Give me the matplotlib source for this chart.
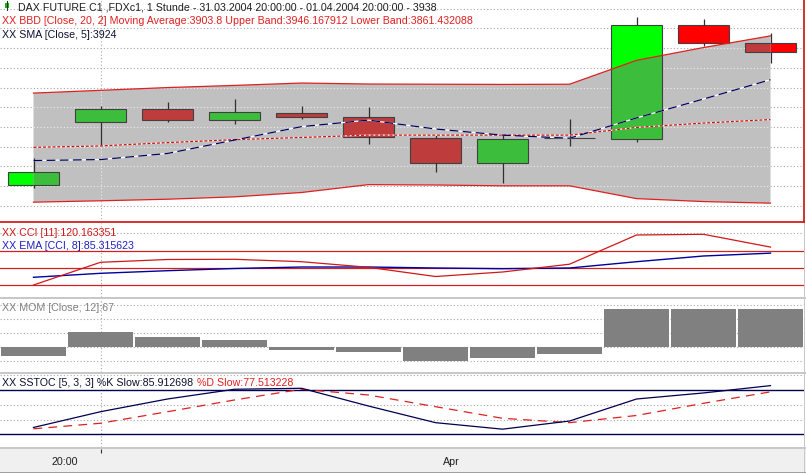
import matplotlib
matplotlib.use('Agg')
import matplotlib.pyplot as plt
from matplotlib.patches import Polygon, Rectangle
from matplotlib.lines import Line2D
import numpy as np

# DAX Future, 1 Stunde - Kerzen
opens = [3870.4, 3902.4, 3909.0, 3903.7, 3907.1, 3905.1, 3894.3, 3881.9, 3894.3, 3893.8, 3951.7, 3942.6]
highs = [3884.3, 3910.7, 3912.8, 3914.2, 3910.8, 3910.1, 3895.9, 3896.4, 3904.0, 3956.0, 3954.8, 3947.7]
lows = [3869.0, 3890.4, 3902.7, 3901.7, 3904.2, 3891.2, 3877.2, 3871.7, 3890.5, 3892.5, 3941.2, 3932.5]
closes = [3877.0, 3909.0, 3903.7, 3907.6, 3904.9, 3894.8, 3881.9, 3893.8, 3894.5, 3951.7, 3942.5, 3938.0]

# Bollinger (BBD) und SMA
bb_upper = [3917.2, 3918.6, 3920.0, 3921.1, 3922.3, 3921.8, 3921.7, 3921.6, 3921.7, 3933.8, 3940.3, 3946.2]
bb_lower = [3861.9, 3862.6, 3863.4, 3864.6, 3866.8, 3870.8, 3870.6, 3870.2, 3870.2, 3863.7, 3862.2, 3861.4]
bb_ma = [3889.7, 3890.4, 3892.1, 3893.6, 3894.7, 3895.9, 3895.9, 3895.9, 3895.9, 3899.8, 3902.0, 3903.8]
sma5 = [3883.0, 3883.5, 3886.6, 3893.4, 3900.2, 3903.5, 3899.0, 3895.9, 3894.3, 3904.6, 3914.2, 3924.0]

# Indikatoren
cci = [-97.7, 32.8, 48.9, 50.0, 36.2, 4.0, -48.9, -23.0, 21.8, 189.7, 193.7, 120.2]
cci_ema = [-53.4, -30.5, -15.5, -2.9, 5.7, 5.7, 0.0, -4.0, 0.0, 36.2, 69.0, 85.3]
mom = [-16.3, 25.7, 16.7, 11.8, -6.1, -9.2, -25.3, -19.9, -13.3, 67, 67, 67]
k_slow = [29.3, 50.6, 67.8, 81.0, 82.3, 58.3, 35.8, 27.0, 38.0, 67.8, 76.0, 85.9]
d_slow = [27.5, 35.0, 50.6, 66.5, 81.0, 73.2, 57.4, 41.7, 35.8, 45.5, 62.0, 77.5]

# Beschriftungen
title_text = "DAX FUTURE C1 ,FDXc1, 1 Stunde - 31.03.2004 20:00:00 - 01.04.2004 20:00:00 - 3938"
bbd_text = "XX BBD [Close, 20, 2] Moving Average:3903.8 Upper Band:3946.167912 Lower Band:3861.432088"
sma_text = "XX SMA [Close, 5]:3924"
cci_text = "XX CCI [11]:120.163351"
ema_text = "XX EMA [CCI, 8]:85.315623"
mom_text = "XX MOM [Close, 12]:67"
stoch_k_text = "XX SSTOC [5, 3, 3] %K Slow:85.912698"
stoch_d_text = "%D Slow:77.513228"
x_labels = ["20:00", "Apr"]
x_label_pos = [0.46, 6.23]

W, H = 806, 474
FONT = 'Liberation Sans'
FS = 7.65
DOT = (0, (1, 2))
GRID = '#a8a8a8'


# pixel box -> figure fraction
def px_rect(x0, y0, x1, y1):
    return [x0 / W, 1 - y1 / H, (x1 - x0) / W, (y1 - y0) / H]


def label(fig, x, y, s, color):
    return fig.text(x / W, 1 - y / H, s, fontsize=FS, color=color, family=FONT, va='center', ha='left')


def fig_box(fig, x0, y0, x1, y1, color):
    fig.add_artist(Rectangle((x0 / W, 1 - y1 / H), (x1 - x0) / W, (y1 - y0) / H,
                             transform=fig.transFigure, facecolor=color, edgecolor='none'))


def setup_panel(ax, ylim):
    ax.set_xlim(-0.5, 11.5)
    ax.set_ylim(*ylim)
    ax.set_xticks([])
    ax.set_yticks([])
    for s in ax.spines.values():
        s.set_visible(False)
    ax.axvline(1, color=GRID, lw=0.8, ls=DOT, zorder=0)


def draw_main(ax):
    x = np.arange(len(closes))
    setup_panel(ax, (3852.1, 3964.4))
    for side in ('right', 'bottom'):
        ax.spines[side].set_visible(True)
        ax.spines[side].set_color('#d02020')
        ax.spines[side].set_linewidth(1.3)
    levels = np.arange(3860, 3961, 10)
    for v in levels:
        ax.axhline(v, color=GRID, lw=0.8, ls=DOT, zorder=0)

    # band polygon
    verts = np.column_stack([np.r_[x, x[::-1]], np.r_[bb_upper, bb_lower[::-1]]])
    band = Polygon(verts, closed=True, facecolor='#c0c0c0', edgecolor='none', zorder=2)
    ax.add_patch(band)
    for v in levels:
        ln = ax.axhline(v, color='#ececec', lw=0.8, ls=DOT, zorder=2.5)
        ln.set_clip_path(band)
    ln = ax.axvline(1, color='#ececec', lw=0.8, ls=DOT, zorder=2.5)
    ln.set_clip_path(band)

    # candles: bright outside the band, darker inside
    for i in range(len(closes)):
        o, c = opens[i], closes[i]
        up = c >= o
        bottom = min(o, c)
        height = max(abs(c - o), 0.15)
        bright = '#00ff00' if up else '#ff0000'
        dark = '#3cbe3c' if up else '#be3c3c'
        ax.add_patch(Rectangle((i - 0.38, bottom), 0.76, height, facecolor=bright,
                               edgecolor='#404040', lw=0.8, zorder=1))
        r = Rectangle((i - 0.38, bottom), 0.76, height, facecolor=dark,
                      edgecolor='#404040', lw=0.8, zorder=3)
        ax.add_patch(r)
        r.set_clip_path(band)
    tops = np.maximum(opens, closes)
    bots = np.minimum(opens, closes)
    ax.vlines(x, tops, highs, color='#303030', lw=0.9, zorder=3.5)
    ax.vlines(x, lows, bots, color='#303030', lw=0.9, zorder=3.5)

    ax.plot(x, bb_upper, color='#e02020', lw=0.9, zorder=4)
    ax.plot(x, bb_lower, color='#e02020', lw=0.9, zorder=4)
    ax.plot(x, bb_ma, color='white', lw=0.9, zorder=4)
    ax.plot(x, bb_ma, color='#d01010', lw=0.9, ls=(0, (2.4, 1.4)), zorder=4.1)
    ax.plot(x, sma5, color='white', lw=0.9, zorder=4)
    ax.plot(x, sma5, color='#000060', lw=0.9, ls=(0, (7, 3.5)), zorder=4.1)


def draw_cci(ax):
    x = np.arange(len(cci))
    setup_panel(ax, (-163.8, 261.5))
    ax.axhline(200, color=GRID, lw=0.8, ls=DOT, zorder=0)
    for v in (100, 0, -100):
        ax.axhline(v, color='#d02020', lw=0.9, zorder=1)
    ax.plot(x, cci, color='#d01818', lw=0.9, zorder=3)
    ax.plot(x, cci_ema, color='#0000a0', lw=1.0, zorder=2)


def draw_mom(ax):
    x = np.arange(len(mom))
    setup_panel(ax, (-44.7, 86.4))
    for v in (75, 50, 25, 0, -25):
        ax.axhline(v, color=GRID, lw=0.8, ls=DOT, zorder=0)
    ax.bar(x, mom, width=0.97, color='#808080', zorder=2)


def draw_stoch(ax):
    x = np.arange(len(k_slow))
    setup_panel(ax, (3.55, 102.3))
    for v in (100, 60, 40):
        ax.axhline(v, color=GRID, lw=0.8, ls=DOT, zorder=0)
    for v in (80, 20):
        ax.axhline(v, color='#000050', lw=1.0, zorder=1)
    ax.plot(x, k_slow, color='#000050', lw=0.9, zorder=3)
    ax.plot(x, d_slow, color='#e02020', lw=0.9, ls=(0, (7, 5)), zorder=2)


def main():
    fig = plt.figure(figsize=(W / 100, H / 100), dpi=100)
    fig.patch.set_facecolor('white')

    ax_main = fig.add_axes(px_rect(0, 0, 804, 221.5))
    ax_cci = fig.add_axes(px_rect(0, 222.5, 804, 296.5))
    ax_mom = fig.add_axes(px_rect(0, 298.5, 804, 371.5))
    ax_sto = fig.add_axes(px_rect(0, 373.5, 804, 446.5))
    ax_x = fig.add_axes(px_rect(0, 448.5, 806, 471.5))

    draw_main(ax_main)
    draw_cci(ax_cci)
    draw_mom(ax_mom)
    draw_stoch(ax_sto)

    # time axis
    ax_x.set_facecolor('#f0f0f0')
    ax_x.set_xlim(-0.5, 11.5 + 2 / 67)
    ax_x.set_ylim(0, 1)
    ax_x.set_xticks([])
    ax_x.set_yticks([])
    for s in ax_x.spines.values():
        s.set_visible(False)
    ax_x.vlines(1, 0.8, 1.0, color='#303030', lw=0.8)
    for pos, txt in zip(x_label_pos, x_labels):
        ax_x.text(pos, 0.43, txt, fontsize=FS, family=FONT, color='#202020', ha='center', va='center')

    # separators
    fig_box(fig, 0, 296.5, 806, 298.5, '#c8c8c8')
    fig_box(fig, 0, 371.5, 806, 373.5, '#c8c8c8')
    fig_box(fig, 0, 446.5, 806, 448.5, '#c8c8c8')
    fig_box(fig, 0, 471.5, 806, 472.5, '#a0a0a0')
    fig_box(fig, 803.5, 222.5, 804.5, 471.5, '#c8c8c8')

    # title marker
    fig.add_artist(Line2D([6.5 / W, 6.5 / W], [1 - 1 / H, 1 - 10 / H], transform=fig.transFigure,
                          color='#303030', lw=0.8))
    fig_box(fig, 5, 3, 8.5, 7.5, '#00c000')

    label(fig, 17.5, 7, title_text, '#202020')
    label(fig, 2.5, 21.3, bbd_text, '#e02020')
    label(fig, 2.5, 35, sma_text, '#101030')
    label(fig, 2.5, 233.3, cci_text, '#d01818')
    label(fig, 2.5, 246, ema_text, '#2020c0')
    label(fig, 2.5, 307.7, mom_text, '#808080')
    k_label = label(fig, 2.5, 383.3, stoch_k_text, '#101030')
    # %D text follows the %K text on the same line
    fig.add_artist(matplotlib.text.Annotation(stoch_d_text, xy=(1, 0.5), xycoords=k_label,
                                              xytext=(2.2, 0), textcoords='offset points',
                                              fontsize=FS, family=FONT, color='#e02020',
                                              va='center', ha='left'))

    fig.savefig('out.png', dpi=100)


if __name__ == "__main__":
    main()
